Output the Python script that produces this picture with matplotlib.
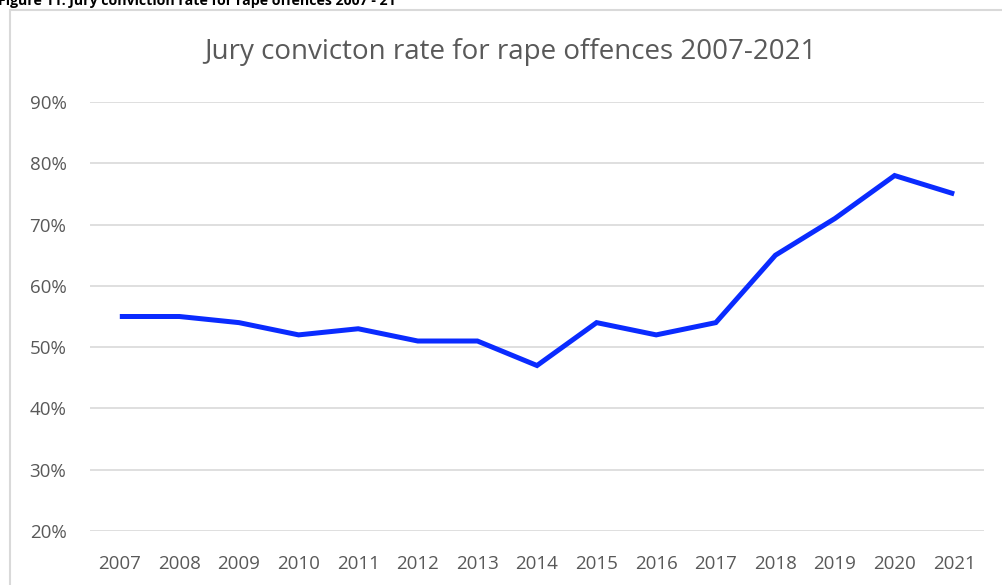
import matplotlib
matplotlib.use("Agg")
import matplotlib.pyplot as plt
from matplotlib.patches import Rectangle
from matplotlib.ticker import FuncFormatter

years = ["2007", "2008", "2009", "2010", "2011", "2012", "2013", "2014",
         "2015", "2016", "2017", "2018", "2019", "2020", "2021"]
rates = [55, 55, 54, 52, 53, 51, 51, 47, 54, 52, 54, 65, 71, 78, 75]
yticks = [20, 30, 40, 50, 60, 70, 80, 90]

plt.rcParams['font.family'] = ['Open Sans', 'DejaVu Sans']

W, H = 1002, 585
fig = plt.figure(figsize=(W / 100, H / 100), dpi=100)

# outer chart frame
fig.patches.append(Rectangle((10 / W, -0.1), 1.2, 1 - 10 / H + 0.1,
                             transform=fig.transFigure, fill=False,
                             edgecolor="#d9d9d9", linewidth=1.5))

# heading (clipped at the top edge, as in the reference)
fig.text(-2 / W, 1 - 5 / H, "Figure 11: Jury conviction rate for rape offences 2007 - 21",
         ha="left", va="baseline", fontsize=10.2, fontweight="bold", color="#000000")

ax = fig.add_axes([90 / W, 1 - 531 / H, (984 - 90) / W, (531 - 102) / H])
x = list(range(len(years)))
ax.plot(x, rates, color="#0A2BFF", linewidth=3.6, solid_joinstyle="miter",
        solid_capstyle="butt", zorder=3)

ax.set_xlim(-0.5, len(years) - 0.5)
ax.set_ylim(20, 90)
ax.set_yticks(yticks)
ax.yaxis.set_major_formatter(FuncFormatter(lambda v, p: f"{int(v)}%"))
ax.set_xticks(x)
ax.set_xticklabels(years)
ax.grid(axis="y", color="#d9d9d9", linewidth=1.2)
ax.set_axisbelow(True)
for s in ax.spines.values():
    s.set_visible(False)
ax.tick_params(axis="both", length=0, labelsize=13.5, colors="#595959")
ax.tick_params(axis="x", pad=17)
ax.tick_params(axis="y", pad=17)

fig.text(510 / W, 1 - 52 / H, "Jury convicton rate for rape offences 2007-2021",
         ha="center", va="center", fontsize=20, color="#595959")

fig.savefig("out.png", dpi=100)
